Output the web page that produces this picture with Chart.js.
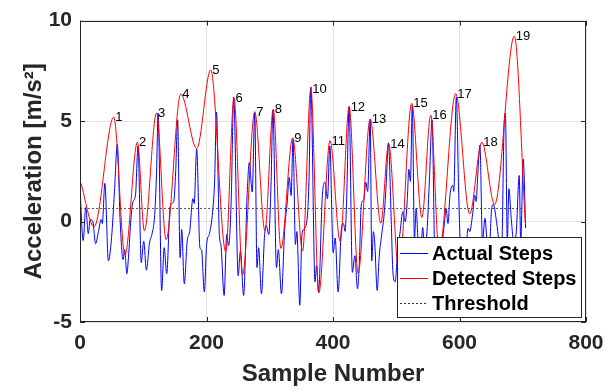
<!DOCTYPE html>
<html><head><meta charset="utf-8">
<script src="https://cdn.jsdelivr.net/npm/chart.js@4/dist/chart.umd.min.js"></script>
<style>html,body{margin:0;padding:0;background:#fff}#wrap{width:606px;height:391px}</style>
</head><body><div id="wrap"><canvas id="c" width="606" height="391"></canvas></div>
<script>
// ---- data ----
const actualSteps = [
 [0,1.6],[5,-0.95],[9.1,0.7],[13.1,-0.6],[16.1,0.1],[20.2,0.0],[24.7,-1.1],[29.2,-0.5],[33.3,0.1],[35.3,-0.1],
 [39.3,1.9],[44.9,-1.95],[49.9,-0.8],[54.5,1.5],[59,3.85],[63.5,0],[68.1,-1.9],[70.6,-1.4],[74.1,-2.6],[76.6,-1.8],
 [80.7,0.2],[83.7,0.98],[87.7,1.3],[91.8,3.76],[96.8,-2.05],[100.8,-0.98],[104.9,-2.42],[109.9,-1.06],[114,-0.6],[118,0.3],
 [121,2.4],[123.5,5.4],[129.1,-3.43],[133.1,-1.3],[137.1,-2.6],[142.2,0.65],[145.2,0.9],[148.2,1.0],[151.3,2.5],[154.3,5.06],
 [158.3,-1.8],[160.8,-0.4],[164.9,-3.1],[169.4,-0.98],[173.4,-0.5],[178.5,1.14],[180.5,0.9],[184.5,3.6],[189.6,-1.3],[192.1,-1.4],
 [196.6,-3.5],[200.2,-1.14],[204.7,-0.6],[209.7,0.5],[212.8,2.0],[215.8,5.45],[220.3,-0.65],[222.9,-1.2],[227.9,-3.68],[231.9,-0.65],
 [235,-1.2],[239,1.0],[243,6.2],[250.1,-2.7],[253.6,-1.47],[258.7,-3.68],[264.2,1.3],[267.7,2.94],[272.3,1.47],[276.3,5.4],
 [279.8,-2.29],[282.4,-1.3],[286.9,-3.6],[291.9,-0.65],[294.5,-0.2],[298.5,-0.65],[302,1.8],[305,5.55],[310.6,-2.29],[313.6,-1.4],
 [318.5,-3.6],[323.7,-0.33],[327.7,0.98],[330.8,2.2],[333.8,1.3],[336.8,4.08],[340.6,-1.14],[342.9,-0.5],[347.5,-4.17],[350.9,-0.65],
 [356,-0.3],[360,0.5],[362,2.0],[365,6.7],[371.6,-3.0],[374.1,-2.2],[377.1,-3.5],[383.2,1.3],[387.2,1.96],[391.3,1.14],
 [395,3.76],[400.3,-1.55],[403.4,-0.82],[408.1,-3.5],[413.4,-0.33],[416.5,-0.1],[419.2,-0.49],[421.5,1.0],[425.5,5.72],[430.6,-2.53],
 [434.6,-1.7],[438.7,-3.35],[441.7,-2.0],[444.7,0.82],[448.7,1.1],[451.8,1.96],[454.8,1.5],[458.8,5.06],[461.3,-1.96],[463.9,-0.5],
 [465.9,-1.0],[469.9,-3.43],[472.9,-1.8],[477,-0.65],[481,0.4],[484,1.8],[487.6,3.92],[492.1,0],[494.6,-2.45],[498.2,-3.0],
 [502.2,-1.5],[506.2,-0.5],[510.3,0.49],[514.3,0],[517.3,1.0],[519.9,2.6],[522.4,2.0],[525.4,5.8],[528.8,-0.9],[531.4,0.65],
 [534.5,-1.0],[537.5,-2.0],[542,-0.3],[544.5,-1.5],[548.6,-0.5],[552.6,2.2],[556.6,5.06],[560.7,-1.5],[564.7,-3.0],[568.7,-2.0],
 [572.8,-1.0],[575.8,-0.2],[578.8,0.65],[581.8,-0.1],[584.9,1.3],[589.5,1.8],[590.9,1.5],[595,6.2],[599,1.0],[603,-2.0],
 [607.1,-1.0],[610.1,-1.2],[613.7,-0.33],[616.1,-0.5],[620.6,0.33],[624.2,1.3],[626.2,1.0],[629.2,2.5],[632.3,3.8],[636.3,-1.0],
 [640.3,0.16],[643.4,-1.0],[646.4,-2.0],[650.4,0.49],[653.5,0.85],[658.5,0],[662.5,-1.0],[666.6,-1.5],[670.6,4.9],[672.6,5.4],
 [675.6,-1.0],[678.1,1.63],[681.7,0.2],[685.7,-1.0],[689.8,-0.5],[694.4,2.29],[696.8,-1.0],[700.8,3.1],[704.5,-0.33]
];
const detectedSteps = [
 [1.5,1.9],[22.2,-0.26],[53.4,5.2],[71.1,-1.67],[90.8,3.95],[101.8,-0.46],[121,5.4],[136.1,-0.9],[159.3,6.35],[184.5,3.63],
 [206.7,7.55],[230.4,-1.5],[243.5,6.15],[257.1,-2.65],[276.3,5.47],[292.4,-0.46],[305.5,5.59],[317.6,-1.34],[336.4,4.17],[351.9,-1.47],
 [365,6.62],[377.6,-3.56],[395.3,4.03],[411.4,-1.0],[425.5,5.72],[439.7,-2.58],[458.8,5.11],[475.6,-0.08],[488,3.87],[504.2,-2.5],
 [524.4,5.88],[540.5,0.2],[554.6,5.3],[567.7,-1.5],[594,6.37],[616.1,0.38],[635.3,3.95],[655.5,0.85],[686.7,9.23],[703.9,0.0]
];
const thresholdValue = 0.65;
const thresholdSpan = [0, 702];
const xTicks = [0, 200, 400, 600, 800];
const yTicks = [-5, 0, 5, 10];
const legendLabels = ['Actual Steps', 'Detected Steps', 'Threshold'];
const seriesColors = ['#0000ff', '#ff0000', '#333333'];

const toXY = arr => arr.map(p => ({x: p[0], y: p[1]}));
const FONT = '"Liberation Sans", Arial, sans-serif';
const INK = '#262626';

const decor = {
  id: 'decor',
  afterDatasetsDraw(chart) {
    const {ctx, chartArea: a, scales: {x, y}} = chart;
    ctx.save();
    ctx.strokeStyle = INK; ctx.lineWidth = 1;
    ctx.beginPath();
    xTicks.forEach(v => {
      const px = Math.round(x.getPixelForValue(v)) + 0.5;
      ctx.moveTo(px, a.bottom); ctx.lineTo(px, a.bottom - 5);
      ctx.moveTo(px, a.top); ctx.lineTo(px, a.top + 5);
    });
    yTicks.forEach(v => {
      const py = Math.round(y.getPixelForValue(v)) + 0.5;
      ctx.moveTo(a.left, py); ctx.lineTo(a.left + 5, py);
      ctx.moveTo(a.right, py); ctx.lineTo(a.right - 5, py);
    });
    ctx.stroke();
    ctx.strokeRect(Math.round(a.left) + 0.5, Math.round(a.top) + 0.5,
                   Math.round(a.right - a.left) - 1, Math.round(a.bottom - a.top) - 1);
    // peak numbers (local maxima of detected series)
    ctx.font = '13px ' + FONT; ctx.fillStyle = '#000';
    ctx.textAlign = 'left'; ctx.textBaseline = 'middle';
    let n = 0;
    for (let i = 1; i < detectedSteps.length - 1; i++) {
      const p = detectedSteps[i];
      if (p[1] > detectedSteps[i-1][1] && p[1] > detectedSteps[i+1][1]) {
        n++;
        ctx.fillText(String(n), x.getPixelForValue(p[0]) + 1.5, y.getPixelForValue(p[1]) + 0.5);
      }
    }
    // legend
    ctx.font = 'bold 20px ' + FONT;
    const tw = Math.max(...legendLabels.map(t => ctx.measureText(t).width));
    const w = Math.round(35 + tw + 5), h = 80;
    const L = Math.round(a.right - 5 - w), T = Math.round(a.bottom - 5 - h);
    ctx.fillStyle = '#fff'; ctx.fillRect(L, T, w, h);
    ctx.strokeStyle = INK; ctx.lineWidth = 1; ctx.setLineDash([]);
    ctx.strokeRect(L + 0.5, T + 0.5, w, h);
    legendLabels.forEach((t, i) => {
      const cy = T + 16 + i * 25;
      ctx.strokeStyle = seriesColors[i];
      ctx.lineWidth = 1;
      ctx.setLineDash(i === 2 ? [2, 2] : []);
      ctx.beginPath(); ctx.moveTo(L + 3, cy + 0.5); ctx.lineTo(L + 31, cy + 0.5); ctx.stroke();
      ctx.setLineDash([]);
      ctx.fillStyle = '#000'; ctx.textBaseline = 'middle';
      ctx.fillText(t, L + 35, cy + 1);
    });
    ctx.restore();
  }
};

new Chart(document.getElementById('c'), {
  type: 'line',
  data: {
    datasets: [
      {label: legendLabels[0], data: toXY(actualSteps), borderColor: seriesColors[0], borderWidth: 1,
       pointRadius: 0, cubicInterpolationMode: 'monotone', order: 3},
      {label: legendLabels[1], data: toXY(detectedSteps), borderColor: seriesColors[1], borderWidth: 1,
       pointRadius: 0, cubicInterpolationMode: 'monotone', order: 2},
      {label: legendLabels[2], data: thresholdSpan.map(s => ({x: s, y: thresholdValue})), borderColor: seriesColors[2],
       borderWidth: 0.8, borderDash: [2, 2], pointRadius: 0, order: 1}
    ]
  },
  options: {
    responsive: false, animation: false, devicePixelRatio: 1,
    layout: {padding: {top: 15, right: 20, left: 0, bottom: 0}},
    plugins: {legend: {display: false}, tooltip: {enabled: false}},
    scales: {
      x: {
        type: 'linear', min: 0, max: 800,
        afterBuildTicks: s => { s.ticks = xTicks.map(v => ({value: v})); },
        afterFit: s => { s.height = 69; s.paddingLeft = 0; s.paddingRight = 0; },
        grid: {color: '#e3e3e3', drawTicks: false}, border: {display: false},
        ticks: {font: {family: FONT, size: 21, weight: 'bold'}, color: INK, padding: 9, maxRotation: 0},
        title: {display: true, text: 'Sample Number', color: INK,
                font: {family: FONT, size: 24, weight: 'bold'}, padding: {top: 0, bottom: 2}}
      },
      y: {
        type: 'linear', min: -5, max: 10,
        afterBuildTicks: s => { s.ticks = yTicks.map(v => ({value: v})); },
        afterFit: s => { s.width = 80; },
        grid: {color: '#e3e3e3', drawTicks: false}, border: {display: false},
        ticks: {font: {family: FONT, size: 21, weight: 'bold'}, color: INK, padding: 8},
        title: {display: true, text: 'Acceleration [m/s²]', color: INK,
                font: {family: FONT, size: 24, weight: 'bold'}, padding: {top: 20, bottom: 0}}
      }
    }
  },
  plugins: [decor]
});
</script></body></html>
